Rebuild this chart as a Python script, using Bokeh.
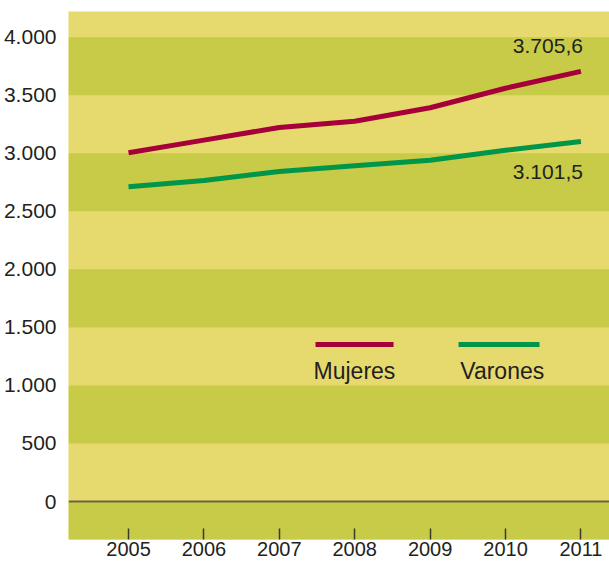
from bokeh.plotting import figure
from bokeh.models import BoxAnnotation, Span, FixedTicker, Range1d
from bokeh.core.properties import value
from bokeh.embed import file_html
from bokeh.resources import INLINE

# ---- data ----
years = [2005, 2006, 2007, 2008, 2009, 2010, 2011]
mujeres = [3005, 3113, 3222, 3275, 3392, 3560, 3705.6]
varones = [2712, 2766, 2842, 2893, 2940, 3025, 3101.5]
y_ticks = [0, 500, 1000, 1500, 2000, 2500, 3000, 3500, 4000]
y_tick_labels = ["0", "500", "1.000", "1.500", "2.000", "2.500", "3.000", "3.500", "4.000"]
end_labels = ["3.705,6", "3.101,5"]
series_names = ["Mujeres", "Varones"]

# ---- style ----
FONT = "Liberation Sans"
TXT = "#231F20"
LIGHT = "#E6D96D"
DARK = "#C8CB47"
RED = "#A6003A"
GREEN = "#00964A"

p = figure(width=609, height=564, output_backend="svg", toolbar_location=None,
           x_range=Range1d(2004.204, 2011.379), y_range=Range1d(-327, 4221),
           min_border_left=68, min_border_right=0, min_border_top=11, min_border_bottom=25)
p.background_fill_color = LIGHT
p.border_fill_color = "white"
p.outline_line_color = None
p.xgrid.visible = False
p.ygrid.visible = False

# alternating bands
for lo in [-500, 500, 1500, 2500, 3500]:
    p.add_layout(BoxAnnotation(bottom=lo, top=lo + 500, fill_color=DARK, fill_alpha=1,
                               line_color=None, level="underlay"))

p.add_layout(Span(location=0, dimension="width", line_color="#6B6642", line_width=2))

p.line(years, mujeres, line_width=5, line_color=RED, line_join="round")
p.line(years, varones, line_width=5, line_color=GREEN, line_join="round")

# end labels
p.text([years[-1]], [mujeres[-1]], text=[end_labels[0]], text_align="right", text_baseline="middle",
       x_offset=2, y_offset=-25, text_font=value(FONT), text_font_size="21px", text_color=TXT)
p.text([years[-1]], [varones[-1]], text=[end_labels[1]], text_align="right", text_baseline="middle",
       x_offset=2, y_offset=31, text_font=value(FONT), text_font_size="21px", text_color=TXT)

# legend (placed in data space)
p.segment(x0=[2007.48, 2009.377], y0=[1352, 1352], x1=[2008.515, 2010.451], y1=[1352, 1352],
          line_color=[RED, GREEN], line_width=5)
p.text([2007.454, 2009.40], [1122, 1122], text=series_names, text_align="left",
       text_baseline="alphabetic", text_font=value(FONT), text_font_size="23px", text_color=TXT)

# axes
p.yaxis.ticker = FixedTicker(ticks=y_ticks)
p.yaxis.major_label_overrides = {t: l for t, l in zip(y_ticks, y_tick_labels)}
p.yaxis.axis_line_color = None
p.yaxis.major_tick_line_color = None
p.yaxis.minor_tick_line_color = None
p.yaxis.major_label_standoff = 6
p.yaxis.major_label_text_font = FONT
p.yaxis.major_label_text_font_size = "21px"
p.yaxis.major_label_text_color = TXT

p.xaxis.ticker = FixedTicker(ticks=years)
p.xaxis.axis_line_color = None
p.xaxis.major_tick_in = 11
p.xaxis.major_tick_out = 0
p.xaxis.major_tick_line_color = "#3A3A2A"
p.xaxis.major_tick_line_width = 1.5
p.xaxis.minor_tick_line_color = None
p.xaxis.major_label_standoff = 2
p.xaxis.major_label_text_font = FONT
p.xaxis.major_label_text_font_size = "20px"
p.xaxis.major_label_text_color = TXT

open("out.html", "w").write(file_html(p, INLINE))
